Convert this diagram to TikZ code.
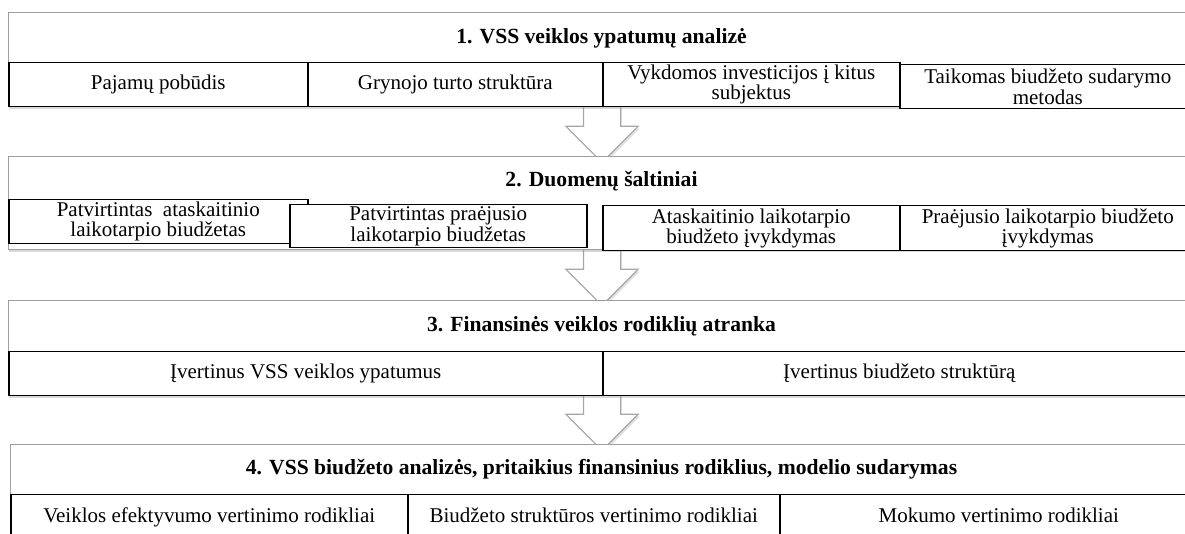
\documentclass[tikz,border=0pt]{standalone}
\usepackage{fontspec}
\setmainfont{Liberation Serif}
\usetikzlibrary{shapes.arrows,shadows}

\tikzset{
	block/.style={draw=gray!75, line width=0.5pt, fill=white, anchor=north west, inner sep=0pt,
		drop shadow={shadow xshift=0pt, shadow yshift=-1.3pt, opacity=0.3}},
	cell/.style={draw=black, line width=0.75pt, fill=white, anchor=north west, inner sep=0pt,
		align=center, font=\fontsize{10.5}{10.2}\selectfont},
	oneline/.style={text height=7.3pt, text depth=2.4pt},
	headline/.style={font=\fontsize{10.8}{12}\selectfont\bfseries},
	bigarrow/.style={single arrow, draw=gray!70, line width=0.6pt, fill=white, anchor=tail,
		shape border rotate=270, inner sep=9pt, single arrow head extend=8.75pt,
		minimum height=25pt, drop shadow={shadow xshift=0.8pt, shadow yshift=-1pt, opacity=0.25}}
}

\begin{document}
\begin{tikzpicture}[x=0.5pt, y=-0.5pt]
\useasboundingbox (0,0) rectangle (1185,534);
\clip (0,0) rectangle (1185,534);

	%% Pfeile
	\node[bigarrow] (arr1) at (602,106) {};
	\node[bigarrow] (arr2) at (602,249) {};
	\node[bigarrow] (arr3) at (602,394) {};

	%% 1. Block
	\node[block, minimum width=593.5pt, minimum height=47pt] (blk1) at (8,12) {};
	\node[headline] (ttl1) at (601.5,38) {1. VSS veiklos ypatumų analizė};
	\node[cell, oneline, minimum width=149.5pt, minimum height=22pt] (c11) at (8,62) {Pajamų pobūdis};
	\node[cell, oneline, minimum width=147.5pt, minimum height=22pt] (c12) at (307,62) {Grynojo turto struktūra};
	\node[cell, minimum width=148.5pt, minimum height=22pt] (c13) at (602,62) {Vykdomos investicijos į kitus\\subjektus};
	\node[cell, minimum width=148pt, minimum height=22pt] (c14) at (899,64) {Taikomas biudžeto sudarymo\\metodas};

	%% 2. Block
	\node[block, minimum width=593.5pt, minimum height=46.5pt] (blk2) at (8,156) {};
	\node[headline] (ttl2) at (601.5,181) {2. Duomenų šaltiniai};
	\node[cell, minimum width=149.5pt, minimum height=22pt] (c21) at (8,199) {Patvirtintas~ ataskaitinio\\laikotarpio biudžetas};
	\node[cell, minimum width=148.5pt, minimum height=21.5pt] (c22) at (289,204) {Patvirtintas praėjusio\\laikotarpio biudžetas};
	\node[cell, minimum width=148.5pt, minimum height=22.5pt] (c23) at (602,205) {Ataskaitinio laikotarpio\\biudžeto įvykdymas};
	\node[cell, minimum width=148pt, minimum height=22.5pt] (c24) at (899,205) {Praėjusio laikotarpio biudžeto\\įvykdymas};

	%% 3. Block
	\node[block, minimum width=593.5pt, minimum height=47.5pt] (blk3) at (8,300) {};
	\node[headline] (ttl3) at (601.5,326) {3. Finansinės veiklos rodiklių atranka};
	\node[cell, oneline, minimum width=297pt, minimum height=22pt] (c31) at (8,351) {Įvertinus VSS veiklos ypatumus};
	\node[cell, oneline, minimum width=296.5pt, minimum height=22pt] (c32) at (602,351) {Įvertinus biudžeto struktūrą};

	%% 4. Block
	\node[block, minimum width=592.5pt, minimum height=60pt] (blk4) at (10,444) {};
	\node[headline] (ttl4) at (601.5,469) {4. VSS biudžeto analizės, pritaikius finansinius rodiklius, modelio sudarymas};
	\node[cell, oneline, minimum width=198.5pt, minimum height=23pt] (c41) at (10,494) {Veiklos efektyvumo vertinimo rodikliai};
	\node[cell, oneline, minimum width=186pt, minimum height=23pt] (c42) at (407,494) {Biudžeto struktūros vertinimo rodikliai};
	\node[cell, oneline, minimum width=219pt, minimum height=23pt] (c43) at (779,494) {Mokumo vertinimo rodikliai};

\end{tikzpicture}
\end{document}
